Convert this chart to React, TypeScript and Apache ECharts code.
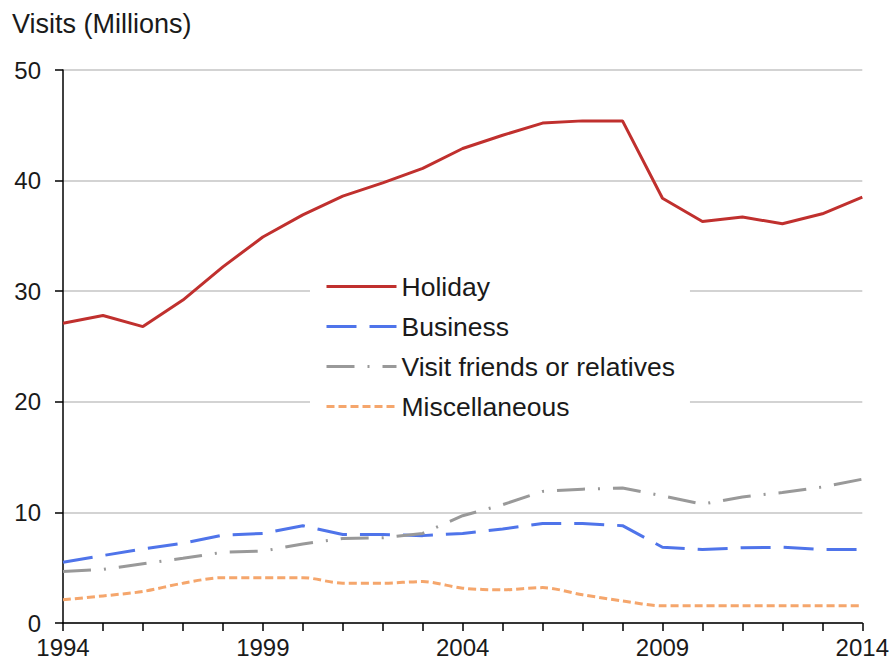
import React, { useEffect, useRef } from "react";
import * as echarts from "echarts";

const years = ["1994","1995","1996","1997","1998","1999","2000","2001","2002","2003","2004","2005","2006","2007","2008","2009","2010","2011","2012","2013","2014"];
const holiday = [27.1,27.8,26.8,29.2,32.2,34.9,36.9,38.6,39.8,41.1,42.9,44.1,45.2,45.4,45.4,38.4,36.3,36.7,36.1,37.0,38.5];
const business = [5.5,6.1,6.7,7.2,7.95,8.1,8.8,8.0,8.0,7.9,8.1,8.5,9.0,9.0,8.8,6.85,6.65,6.8,6.85,6.65,6.65];
const vfr = [4.65,4.85,5.35,5.85,6.4,6.5,7.15,7.65,7.7,8.1,9.7,10.7,11.9,12.1,12.2,11.5,10.75,11.4,11.8,12.3,13.0];
const misc = [2.1,2.45,2.85,3.6,4.1,4.1,4.1,3.6,3.6,3.75,3.15,3.0,3.2,2.55,2.0,1.55,1.55,1.55,1.55,1.55,1.55];

const FONT = "'Liberation Sans', Arial, sans-serif";

export default function App() {
  const ref = useRef<HTMLDivElement>(null);
  useEffect(() => {
    document.body.style.margin = "0";
    const chart = echarts.init(ref.current!, null, { renderer: "svg" });
    chart.setOption({
      animation: false,
      backgroundColor: "#ffffff",
      title: {
        text: "Visits (Millions)",
        left: 12,
        top: 10,
        padding: 0,
        textStyle: { fontFamily: FONT, fontSize: 27, fontWeight: "normal", color: "#1a1a1a" },
      },
      grid: { left: 63, right: 27, top: 70, bottom: 40, containLabel: false },
      legend: {
        orient: "vertical",
        left: 310,
        top: 262,
        padding: [11, 15, 11, 15],
        backgroundColor: "#ffffff",
        itemWidth: 70,
        itemHeight: 14,
        itemGap: 13,
        itemStyle: { color: "transparent", borderWidth: 0, opacity: 0 },
        lineStyle: { width: 3 },
        textStyle: { fontFamily: FONT, fontSize: 26.5, color: "#1a1a1a", padding: [0, 0, 0, 0] },
        data: ["Holiday", "Business", "Visit friends or relatives", "Miscellaneous"],
      },
      xAxis: {
        type: "category",
        data: years,
        boundaryGap: false,
        axisLine: { show: true, lineStyle: { color: "#000", width: 1.5 } },
        axisTick: { show: true, interval: 0, length: 8, lineStyle: { color: "#000", width: 1.5 } },
        axisLabel: { interval: 4, margin: 12, fontFamily: FONT, fontSize: 24, color: "#1a1a1a" },
        splitLine: { show: false },
      },
      yAxis: {
        type: "value",
        min: 0,
        max: 50,
        interval: 10,
        axisLine: { show: true, lineStyle: { color: "#000", width: 1.5 } },
        axisTick: { show: true, length: 8, lineStyle: { color: "#000", width: 1.5 } },
        axisLabel: { margin: 22, fontFamily: FONT, fontSize: 24, color: "#1a1a1a" },
        splitLine: { show: true, lineStyle: { color: "#c4c4c4", width: 1.5 } },
      },
      series: [
        {
          name: "Holiday",
          type: "line",
          data: holiday,
          symbol: "none",
          lineStyle: { color: "#c0302e", width: 3 },
          itemStyle: { color: "#c0302e" },
          z: 5,
        },
        {
          name: "Business",
          type: "line",
          data: business,
          symbol: "none",
          lineStyle: { color: "#4f74ea", width: 3, type: [30, 13] },
          itemStyle: { color: "#4f74ea" },
        },
        {
          name: "Visit friends or relatives",
          type: "line",
          data: vfr,
          symbol: "none",
          lineStyle: { color: "#999999", width: 3, type: [28, 13, 2, 13] },
          itemStyle: { color: "#999999" },
        },
        {
          name: "Miscellaneous",
          type: "line",
          data: misc,
          symbol: "none",
          smooth: 0.3,
          lineStyle: { color: "#f5a66c", width: 3, type: [8, 4] },
          itemStyle: { color: "#f5a66c" },
        },
      ],
    });
    return () => chart.dispose();
  }, []);
  return <div ref={ref} style={{ width: 892, height: 663 }} />;
}
